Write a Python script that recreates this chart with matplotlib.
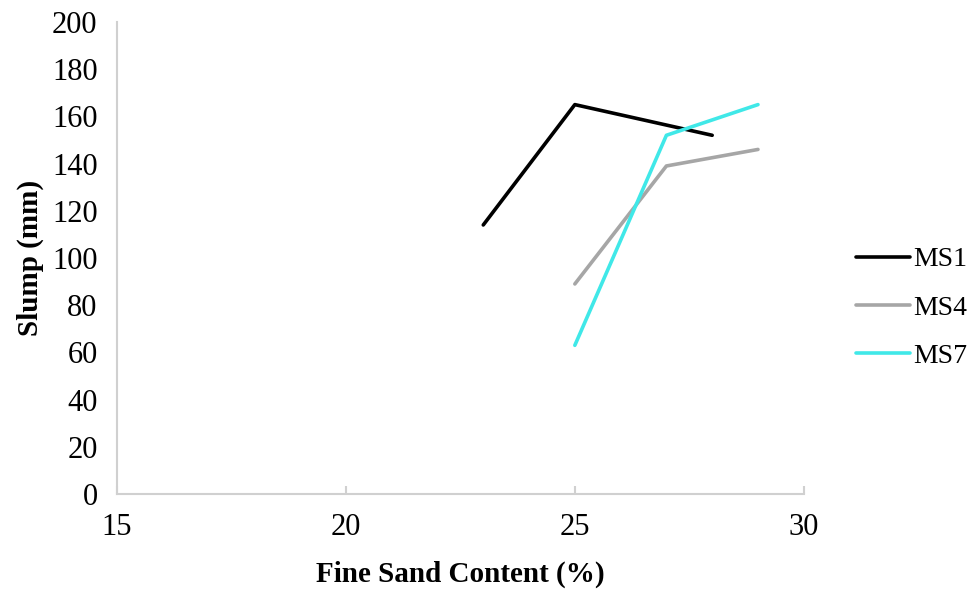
import matplotlib
matplotlib.use("Agg")
import matplotlib.pyplot as plt

plt.rcParams['font.family'] = ['Liberation Serif', 'DejaVu Serif']

ms1_x = [23, 25, 28]
ms1_y = [114, 165, 152]
ms4_x = [25, 27, 29]
ms4_y = [89, 139, 146]
ms7_x = [25, 27, 29]
ms7_y = [63, 152, 165]
x_ticks = [15, 20, 25, 30]
y_ticks = list(range(0, 201, 20))

fig = plt.figure(figsize=(9.79, 5.90), dpi=100)
ax = fig.add_axes([0.1195, 0.1627, 0.7015, 0.8000])

ax.plot(ms1_x, ms1_y, color='#000000', lw=2.6, label='MS1', solid_capstyle='round')
ax.plot(ms4_x, ms4_y, color='#A6A6A6', lw=2.6, label='MS4', solid_capstyle='round')
ax.plot(ms7_x, ms7_y, color='#40E8E8', lw=2.6, label='MS7', solid_capstyle='round')

ax.set_xlim(15, 30)
ax.set_ylim(0, 200)
ax.set_xticks(x_ticks)
ax.set_yticks(y_ticks)
for s in ['top', 'right']:
    ax.spines[s].set_visible(False)
for s in ['left', 'bottom']:
    ax.spines[s].set_color('#D0D0D0')
    ax.spines[s].set_linewidth(1.5)
ax.tick_params(axis='x', direction='in', length=6, width=1.5, color='#D0D0D0',
               labelsize=22, pad=14)
ax.tick_params(axis='y', length=0, labelsize=22, pad=14)

ax.set_xlabel('Fine Sand Content (%)', fontsize=21, fontweight='bold', labelpad=13)
ax.set_ylabel('Slump (mm)', fontsize=21, fontweight='bold', labelpad=6)

leg = ax.legend(loc='center left', bbox_to_anchor=(856 / 979, 0.478),
                bbox_transform=fig.transFigure, frameon=False, borderpad=0,
                borderaxespad=0, fontsize=20, handlelength=1.95,
                handletextpad=0.12, labelspacing=0.82)

fig.savefig('out.png', dpi=100)
